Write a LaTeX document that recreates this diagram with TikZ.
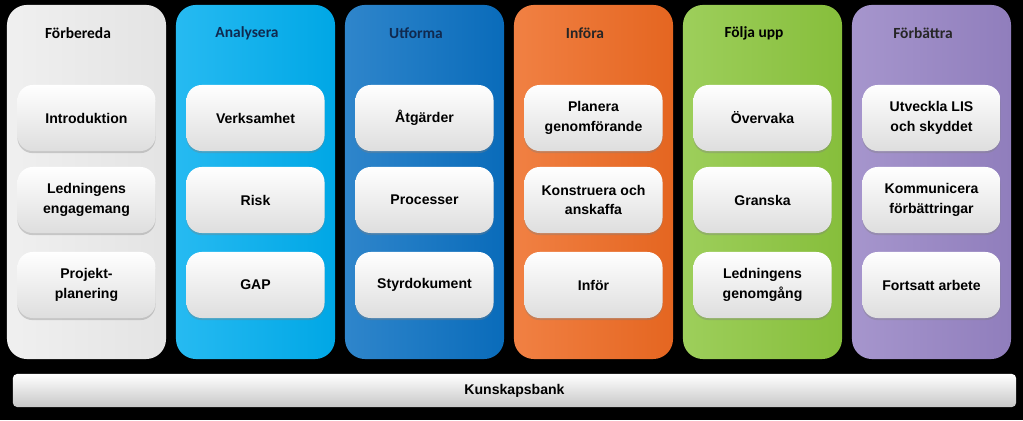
\documentclass[tikz,border=0pt]{standalone}
\usepackage{fontspec}
\setmainfont{Liberation Sans}
\newfontfamily\titrefont{Carlito}
\usepackage{tikz}
\usetikzlibrary{shadows,positioning}

\definecolor{cPrep}{HTML}{EDEDED}
\definecolor{cAnal}{HTML}{00AEEF}
\definecolor{cUtf}{HTML}{0A70C2}
\definecolor{cInf}{HTML}{EE6A22}
\definecolor{cFol}{HTML}{8CC63E}
\definecolor{cForb}{HTML}{9683C4}
\definecolor{marine}{HTML}{10294F}

\tikzset{
	colonne/.style={rounded corners=0.5cm,minimum width=3.975cm,minimum height=8.85cm,inner sep=0pt},
	titre/.style={font=\titrefont\fontsize{11}{13}\selectfont\bfseries,inner sep=1pt},
	boite/.style={rounded corners=0.38cm,minimum width=3.45cm,minimum height=1.65cm,align=center,
		top color=white,bottom color=black!13,
		drop shadow={shadow xshift=0pt,shadow yshift=-1.5pt,opacity=0.35},
		font=\fontsize{10}{14}\selectfont\bfseries},
	banque/.style={rounded corners=3pt,minimum width=25.075cm,minimum height=0.825cm,
		top color=white,bottom color=black!22,font=\fontsize{10}{12}\selectfont\bfseries}
}

\begin{document}
\begin{tikzpicture}[x=0.025cm,y=0.025cm]
	%
	% Fond
	\fill[black] (0,0) rectangle (1023,420);
	\useasboundingbox (0,0) rectangle (1023,420);
	%
	% Colonnes et titres
	\foreach [count=\i] \coul/\titre/\tcoul in {cPrep/Förbereda/black,cAnal/Analysera/marine,cUtf/Utforma/marine,cInf/Införa/black!85,cFol/Följa upp/black,cForb/Förbättra/black!85}{
		\node[colonne,left color=\coul!85!white,middle color=\coul,right color=\coul!96!black] (col\i) at ({86.5+169*(\i-1)},238) {};
		\node[titre,text=\tcoul] (titre\i) at ({78+169*(\i-1)},387) {\titre};
	}
	%
	% Boîtes
	\foreach [count=\i] \a/\b/\c in {{Introduktion}/{Ledningens\\engagemang}/{Projekt-\\planering},
		{Verksamhet}/{Risk}/{GAP},
		{Åtgärder}/{Processer}/{Styrdokument},
		{Planera\\genomförande}/{Konstruera och\\anskaffa}/{Inför},
		{Övervaka}/{Granska}/{Ledningens\\genomgång},
		{Utveckla LIS\\och skyddet}/{Kommunicera\\förbättringar}/{Fortsatt arbete}}{
		\node[boite] (b\i a) at ({86.5+169*(\i-1)},302) {\a};
		\node[boite] (b\i b) at ({86.5+169*(\i-1)},220) {\b};
		\node[boite] (b\i c) at ({86.5+169*(\i-1)},135) {\c};
	}
	%
	% Kunskapsbank
	\node[banque] (bank) at (514.5,29.5) {Kunskapsbank};
\end{tikzpicture}
\end{document}
